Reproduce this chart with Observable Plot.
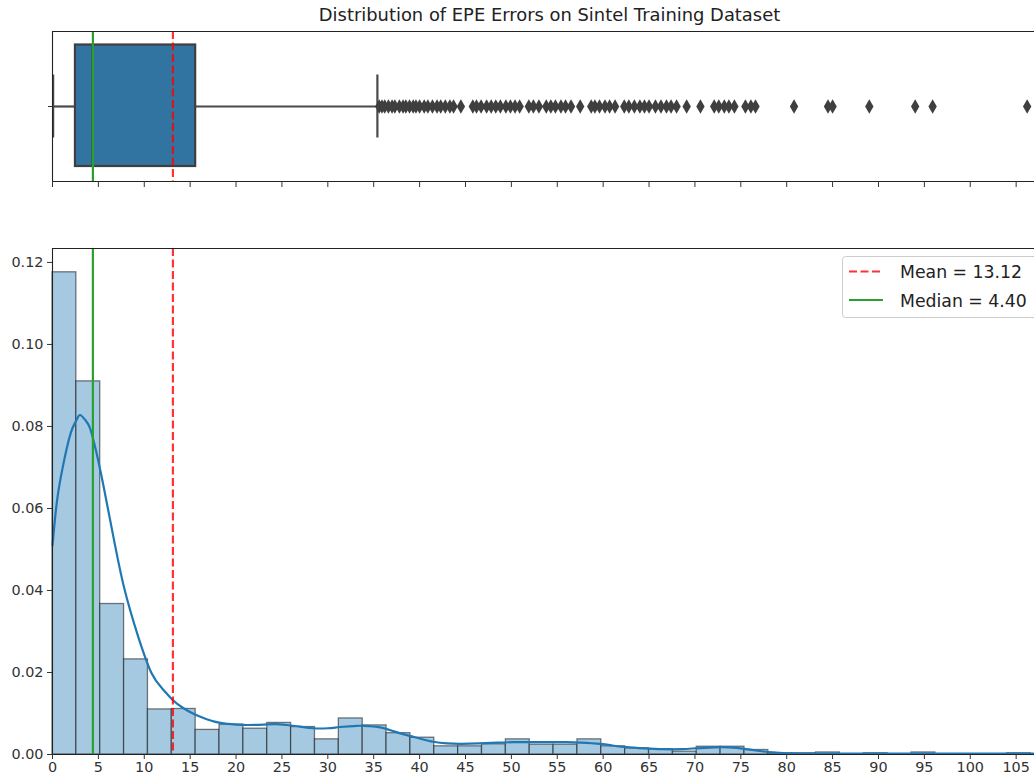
<!DOCTYPE html>
<html><head><meta charset="utf-8">
<script src="https://cdn.jsdelivr.net/npm/d3@7"></script>
<script src="https://cdn.jsdelivr.net/npm/@observablehq/plot@0.6"></script>
<style>
body{margin:0;background:#fff;overflow:hidden}
#wrap{position:relative;width:1034px;height:780px;font-family:"DejaVu Sans",sans-serif;background:#fff}
#wrap svg{display:block}
</style></head><body><div id="wrap"></div>
<script>
const titleText = "Distribution of EPE Errors on Sintel Training Dataset";
const binWidth = 2.6;
const histDensity = [0.1176, 0.0910, 0.0367, 0.0232, 0.0110, 0.0111, 0.0060, 0.0073, 0.0063, 0.0077,
  0.0067, 0.0037, 0.0088, 0.0071, 0.0052, 0.0041, 0.0020, 0.0020, 0.0025, 0.0037,
  0.0024, 0.0024, 0.0037, 0.0020, 0.0015, 0.0013, 0.0007, 0.0019, 0.0019, 0.0011,
  0.0003, 0.0003, 0.0005, 0.0000, 0.0003, 0.0000, 0.0005, 0.0000, 0.0000, 0.0000, 0.0003];
const kdeX = [0, 0.5, 1.2, 2.0, 2.6, 3.0, 3.6, 4.1, 4.8, 5.6, 6.6, 7.8, 9.3, 10.8, 12.0, 13.1, 14.2, 15.3, 16.8, 18.3,
  20, 21.3, 23, 24.3, 25.5, 27, 28.4, 30, 31.3, 33.2, 34.5, 35.7, 37, 38.3, 40, 41.5, 43, 44.5, 46.5, 48.5,
  50.2, 52, 54, 56, 57.5, 59.7, 61, 62.5, 64.5, 66.5, 68.5, 70, 71.5, 73, 74.5, 76, 77.3, 78.5, 80, 82,
  85, 90, 95, 100, 107];
const kdeY = [0.051, 0.062, 0.071, 0.0785, 0.0815, 0.0828, 0.0815, 0.0795, 0.0735, 0.0650, 0.0535, 0.0407, 0.0290, 0.0198, 0.0160, 0.0133, 0.0114, 0.0100, 0.0086, 0.0077,
  0.0073, 0.0072, 0.0073, 0.0074, 0.0072, 0.0068, 0.0064, 0.0064, 0.0067, 0.0070, 0.0069, 0.0066, 0.0058, 0.0049, 0.0039, 0.0031, 0.0027, 0.0026, 0.0027, 0.0029,
  0.0030, 0.0030, 0.0030, 0.0030, 0.0029, 0.0026, 0.0022, 0.0018, 0.0015, 0.0013, 0.0013, 0.0015, 0.0017, 0.0018, 0.0016, 0.0012, 0.0008, 0.0005, 0.0003, 0.0002,
  0.0002, 0.0002, 0.0002, 0.0002, 0.0002];
const boxStats = {lo: 0.07, q1: 2.5, med: 4.36, q3: 15.6, hi: 35.4};
const outliers = [35.6, 35.9, 36.2, 36.6, 37.0, 37.3, 37.8, 38.2, 38.5, 38.9, 39.3, 39.6, 40.0, 40.5, 40.9, 41.4, 41.9, 42.3, 42.8, 43.3, 43.7,
  44.5, 45.8, 46.2, 46.7, 47.3, 47.8, 48.3, 48.8, 49.4, 49.9, 50.4, 50.9, 51.9, 52.4, 53.0, 53.8, 54.3, 54.8, 55.4, 55.9, 56.5, 57.5,
  58.7, 59.1, 59.6, 60.2, 60.7, 61.3, 62.3, 62.8, 63.4, 64.0, 64.5, 65.0, 65.7, 66.3, 66.9, 67.4, 68.0,
  69.1, 70.6, 72.1, 72.6, 73.2, 73.7, 74.3, 75.5, 76.1, 76.6, 80.8, 84.5, 85.0, 89.0, 94.0, 95.9, 106.2];
const meanValue = 13.12;
const medianValue = 4.40;
const xTicks = [0, 5, 10, 15, 20, 25, 30, 35, 40, 45, 50, 55, 60, 65, 70, 75, 80, 85, 90, 95, 100, 105];
const yTicks = [0, 0.02, 0.04, 0.06, 0.08, 0.10, 0.12];
const legendLabels = ["Mean = 13.12", "Median = 4.40"];

const bins = histDensity.map((d, i) => ({x1: i * binWidth, x2: (i + 1) * binWidth, y: d}));
const kde = kdeX.map((x, i) => ({x, y: kdeY[i]}));
const boxRow = [boxStats];
const xDomain = [0, 107];
const yMax = 0.1234;
const spine = "#222";
const txt = "#333";
const font = "DejaVu Sans";

const wrap = document.getElementById("wrap");

const topChart = Plot.plot({
  width: 1034, height: 200,
  marginLeft: 52, marginRight: 0, marginTop: 31, marginBottom: 19,
  x: {domain: xDomain},
  y: {domain: [0, 1]},
  style: {fontFamily: font, color: txt, background: "white", overflow: "visible"},
  marks: [
    Plot.ruleY(boxRow, {y: () => 0.5, x1: "lo", x2: "q1", stroke: "#4a4a4a", strokeWidth: 2.2}),
    Plot.ruleY(boxRow, {y: () => 0.5, x1: "q3", x2: "hi", stroke: "#4a4a4a", strokeWidth: 2.2}),
    Plot.ruleX(boxRow, {x: "lo", y1: () => 0.29, y2: () => 0.71, stroke: "#4a4a4a", strokeWidth: 2.2}),
    Plot.ruleX(boxRow, {x: "hi", y1: () => 0.29, y2: () => 0.71, stroke: "#4a4a4a", strokeWidth: 2.2}),
    Plot.rect(boxRow, {x1: "q1", x2: "q3", y1: () => 0.1, y2: () => 0.91, fill: "#3274a1", stroke: "#3f3f3f", strokeWidth: 2.2}),
    Plot.ruleX(boxRow, {x: "med", y1: () => 0.1, y2: () => 0.91, stroke: "#3f3f3f", strokeWidth: 2.2}),
    Plot.dot(outliers, {x: d => d, y: () => 0.5, symbol: "diamond", r: 4.4, fill: "#3f3f3f", stroke: "none"}),
    Plot.ruleX([medianValue], {stroke: "#2ca02c", strokeWidth: 2.2}),
    Plot.ruleX([meanValue], {stroke: "red", strokeOpacity: 0.8, strokeWidth: 2.2, strokeDasharray: "8,3.5"}),
    Plot.ruleX([xDomain[0]], {stroke: spine, strokeWidth: 1.1}),
    Plot.ruleY([0], {stroke: spine, strokeWidth: 1.1}),
    Plot.ruleY([1], {stroke: spine, strokeWidth: 1.1}),
    Plot.axisX({ticks: xTicks, tickSize: 6, tickFormat: () => "", label: null, stroke: txt}),
    Plot.axisY({ticks: [0.5], tickSize: 4, tickFormat: () => "", label: null, stroke: txt}),
    Plot.text([titleText], {frameAnchor: "top", dy: -16, dx: 6, fontSize: 17.9, fill: "#222", lineAnchor: "middle"})
  ]
});
wrap.appendChild(topChart);

const bottomChart = Plot.plot({
  width: 1034, height: 580,
  marginLeft: 52, marginRight: 0, marginTop: 48, marginBottom: 26,
  x: {domain: xDomain},
  y: {domain: [0, yMax]},
  style: {fontFamily: font, color: txt, background: "white", overflow: "visible"},
  marks: [
    Plot.rectY(bins, {x1: "x1", x2: "x2", y: "y", fill: "#a5c9e1", stroke: "#000", strokeOpacity: 0.5, strokeWidth: 1.3}),
    Plot.line(kde, {x: "x", y: "y", stroke: "#1f77b4", strokeWidth: 2.2, curve: "natural"}),
    Plot.ruleX([meanValue], {stroke: "red", strokeOpacity: 0.8, strokeWidth: 2.2, strokeDasharray: "8,3.5"}),
    Plot.ruleX([medianValue], {stroke: "#2ca02c", strokeWidth: 2.2}),
    Plot.ruleX([xDomain[0]], {stroke: spine, strokeWidth: 1.1}),
    Plot.ruleY([0], {stroke: spine, strokeWidth: 1.1}),
    Plot.ruleY([yMax], {stroke: spine, strokeWidth: 1.1}),
    Plot.axisX({ticks: xTicks, tickSize: 5, tickPadding: 2, fontSize: 14.4, label: null, stroke: txt}),
    Plot.axisY({ticks: yTicks, tickSize: 5, tickPadding: 4, fontSize: 14.4, tickFormat: d3.format(".2f"), label: null, stroke: txt})
  ]
});
wrap.appendChild(bottomChart);

// legend
const leg = d3.create("svg")
  .attr("width", 192).attr("height", 64)
  .style("position", "absolute").style("left", "842px").style("top", "256px");
leg.append("rect").attr("x", 0.5).attr("y", 0.5).attr("width", 220).attr("height", 61)
  .attr("rx", 3).attr("fill", "white").attr("fill-opacity", 0.8).attr("stroke", "#cccccc");
leg.append("line").attr("x1", 7).attr("x2", 41).attr("y1", 15.5).attr("y2", 15.5)
  .attr("stroke", "red").attr("stroke-opacity", 0.8).attr("stroke-width", 2.2).attr("stroke-dasharray", "8,3.5");
leg.append("line").attr("x1", 7).attr("x2", 41).attr("y1", 44).attr("y2", 44)
  .attr("stroke", "#2ca02c").attr("stroke-width", 2.2);
leg.selectAll("text.l").data(legendLabels).join("text")
  .attr("x", 58).attr("y", (d, i) => 22 + i * 28.5)
  .attr("font-family", font).attr("font-size", 17.3).attr("fill", "#222")
  .text(d => d);
wrap.appendChild(leg.node());
</script></body></html>
